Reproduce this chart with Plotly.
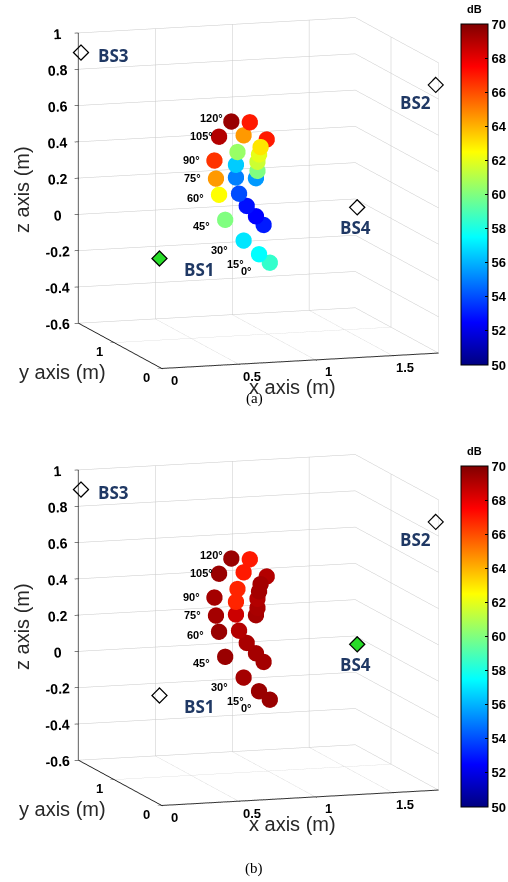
import plotly.graph_objects as go

# ---- geometry of the measurement points (metres), three columns of the arm sweep ----
angle_labels = ["120°", "105°", "90°", "75°", "60°", "45°", "30°", "15°", "0°"]

left_x = [0.73, 0.65, 0.62, 0.63, 0.65, 0.69, 0.81, 0.91, 0.98]
left_z = [0.60, 0.52, 0.39, 0.29, 0.20, 0.06, -0.06, -0.14, -0.19]
mid_x = [0.85, 0.81, 0.77, 0.76, 0.76, 0.78, 0.83, 0.89, 0.94]
mid_z = [0.59, 0.52, 0.43, 0.36, 0.29, 0.20, 0.13, 0.07, 0.02]
right_x = [0.96, 0.92, 0.91, 0.90, 0.90, 0.89]
right_z = [0.49, 0.45, 0.41, 0.37, 0.32, 0.28]
point_y = 0.9

# received power (dB) at each point, case (a) and case (b)
left_db_a = [69.5, 69.0, 66.5, 64.5, 62.5, 60.0, 57.0, 57.5, 58.5]
mid_db_a = [67.0, 64.5, 60.5, 56.5, 55.0, 54.0, 52.8, 52.5, 53.0]
right_db_a = [67.0, 63.0, 62.0, 61.5, 60.0, 55.5]

left_db_b = [69.5, 69.5, 69.3, 69.3, 69.5, 69.5, 69.3, 69.5, 69.5]
mid_db_b = [67.0, 67.0, 66.8, 66.8, 68.5, 69.0, 69.2, 69.3, 69.3]
right_db_b = [69.0, 69.3, 69.3, 69.0, 69.2, 69.3]

# base stations
bs_names = ["BS1", "BS2", "BS3", "BS4"]
bs_x = [0.0, 1.78, 0.0, 1.78]
bs_y = [0.05, 0.0, 1.70, 1.65]
bs_z = [0.0, 0.88, 0.90, -0.03]
active_bs = ["BS1", "BS4"]          # highlighted station in (a) and (b)

x_ticks = [0, 0.5, 1, 1.5]
y_ticks = [0, 1]
z_ticks = [-0.6, -0.4, -0.2, 0, 0.2, 0.4, 0.6, 0.8, 1]
cb_ticks = list(range(50, 71, 2))
db_min, db_max = 50, 70
x_range, y_range, z_range = [0, 1.8], [0, 1.75], [-0.6, 1.0]

jet = [[0.0, "rgb(0,0,128)"], [0.125, "rgb(0,0,255)"], [0.375, "rgb(0,255,255)"],
       [0.625, "rgb(255,255,0)"], [0.875, "rgb(255,0,0)"], [1.0, "rgb(128,0,0)"]]

W, H = 508, 882
NAVY = "rgb(31,56,100)"
BOLD13 = dict(family="Liberation Sans", size=13, color="black", weight="bold")

# label offsets (px) for the angle tags next to the left column
tag_dx = [-6, -4, -12, -13, -13, -13, -13, -13, -16]
tag_dy = [3, 0, 0, 0, -4, -6, -10, -10, -9]

# BS label offsets (px)
bs_dx = {"BS1": 40, "BS2": -20, "BS3": 33, "BS4": -2}
bs_dy = {"BS1": -11, "BS2": -18, "BS3": -3, "BS4": -20}

CB_X = 461        # left edge of the colour bars (px)
ZOOM = 1.53       # orthographic zoom of the 3-D boxes
CX = 258.5        # horizontal centre of the 3-D boxes (px)


def fmt(v):
    return f"{v:g}"


fig = go.Figure()

# (scene id, dB values, active station, vertical centre of the panel in px)
panels = [
    ("scene", (left_db_a, mid_db_a, right_db_a), active_bs[0], 193),
    ("scene2", (left_db_b, mid_db_b, right_db_b), active_bs[1], 630),
]
cb_tops = [24, 466]

for (scene_id, (ldb, mdb, rdb), active, cy), cb_top in zip(panels, cb_tops):
    xs = left_x + mid_x + right_x
    zs = left_z + mid_z + right_z
    ys = [point_y] * len(xs)
    vals = ldb + mdb + rdb
    cb_len = 341
    fig.add_trace(go.Scatter3d(
        x=xs, y=ys, z=zs, mode="markers", scene=scene_id,
        marker=dict(size=9.5, color=vals, colorscale=jet, cmin=db_min, cmax=db_max,
                    opacity=1,
                    colorbar=dict(x=CB_X / W, xanchor="left", y=1 - cb_top / H,
                                  yanchor="top", len=cb_len / H, lenmode="fraction",
                                  thickness=27, outlinecolor="black", outlinewidth=1,
                                  tickvals=cb_ticks, ticks="inside", ticklen=3,
                                  tickcolor="black", ypad=0, xpad=0, tickfont=BOLD13)),
        showlegend=False, hoverinfo="skip"))

    # base-station diamonds: white for passive, green for the active one
    for name, bx, by, bz in zip(bs_names, bs_x, bs_y, bs_z):
        if name == active:
            fig.add_trace(go.Scatter3d(x=[bx], y=[by], z=[bz], mode="markers", scene=scene_id,
                                       marker=dict(symbol="diamond", size=5.5,
                                                   color="rgb(40,220,40)"),
                                       showlegend=False, hoverinfo="skip"))
        fig.add_trace(go.Scatter3d(x=[bx], y=[by], z=[bz], mode="markers", scene=scene_id,
                                   marker=dict(symbol="diamond-open", size=5.5, color="black"),
                                   showlegend=False, hoverinfo="skip"))

    annotations = []
    for lab, lx, lz, dx, dy in zip(angle_labels, left_x, left_z, tag_dx, tag_dy):
        annotations.append(dict(x=lx, y=point_y, z=lz, text=lab, showarrow=False,
                                xanchor="right", xshift=dx, yshift=dy,
                                font=dict(family="Liberation Sans", size=11, color="black",
                                          weight="bold")))
    for name, bx, by, bz in zip(bs_names, bs_x, bs_y, bs_z):
        annotations.append(dict(x=bx, y=by, z=bz, text=name, showarrow=False,
                                xshift=bs_dx[name], yshift=bs_dy[name],
                                font=dict(family="Open Sans", size=17, color=NAVY,
                                          weight="bold")))
    # upright tick labels along the front x edge and the left y edge
    for v in x_ticks:
        annotations.append(dict(x=v, y=y_range[0], z=z_range[0], text=fmt(v), showarrow=False,
                                xshift=13, yshift=-12, font=BOLD13))
    for v in y_ticks:
        annotations.append(dict(x=x_range[0], y=v, z=z_range[0], text=fmt(v), showarrow=False,
                                xshift=-15, yshift=-9, font=BOLD13))

    axis_common = dict(showbackground=False, showgrid=True, gridcolor="rgb(200,200,200)",
                       gridwidth=1, showline=True, linecolor="rgb(30,30,30)", linewidth=2,
                       ticks="outside", ticklen=4, tickcolor="black", tickfont=BOLD13,
                       zeroline=False, showspikes=False, title=dict(text=""))
    d = (-0.300, -0.938, 0.174)
    r = 1.30
    fig.layout[scene_id] = dict(
        domain=dict(x=[(CX - 249.5) / W, (CX + 249.5) / W],
                    y=[1 - (cy + 190) / H, 1 - (cy - 190) / H]),
        xaxis=dict(range=x_range, tickvals=x_ticks, showticklabels=False, **axis_common),
        yaxis=dict(range=y_range, tickvals=y_ticks, showticklabels=False, **axis_common),
        zaxis=dict(range=z_range, tickvals=z_ticks, ticktext=[fmt(v) for v in z_ticks],
                   **axis_common),
        aspectmode="manual", aspectratio=dict(x=1 * ZOOM, y=0.94 * ZOOM, z=1.014 * ZOOM),
        camera=dict(eye=dict(x=d[0] * r, y=d[1] * r, z=d[2] * r),
                    up=dict(x=0, y=0, z=1), center=dict(x=0, y=0, z=0),
                    projection=dict(type="orthographic")),
        annotations=annotations,
        bgcolor="rgba(0,0,0,0)",
    )

# colour-bar units and axis titles
for off, cb_top in [(0, 24), (437, 466)]:
    items = [
        dict(x=22 / W, y=1 - (190 + off) / H, text="z axis (m)", textangle=-90),
        dict(x=62 / W, y=1 - (372 + off) / H, text="y axis (m)"),
        dict(x=292 / W, y=1 - (387 + off) / H, text="x axis (m)"),
    ]
    for t in items:
        fig.add_annotation(xref="paper", yref="paper", showarrow=False,
                           xanchor="center", yanchor="middle",
                           font=dict(family="Liberation Sans", size=20,
                                     color="rgb(40,40,40)"), **t)
    fig.add_annotation(x=(CB_X + 13.5) / W, y=1 - (cb_top - 15) / H, xref="paper", yref="paper",
                       text="dB", showarrow=False, xanchor="center", yanchor="middle",
                       font=dict(family="Liberation Sans", size=11, color="black",
                                 weight="bold"))
# panel captions
capt_y = [398, 868]
for cap, cyp in zip(["(a)", "(b)"], capt_y):
    fig.add_annotation(x=254 / W, y=1 - cyp / H, xref="paper", yref="paper",
                       text=cap, showarrow=False, xanchor="center", yanchor="middle",
                       font=dict(family="Liberation Serif", size=15, color="black"))

fig.update_layout(width=W, height=H,
                  margin=dict(l=0, r=0, t=0, b=0, autoexpand=False),
                  paper_bgcolor="white", plot_bgcolor="white")

fig.write_html("out.html")
